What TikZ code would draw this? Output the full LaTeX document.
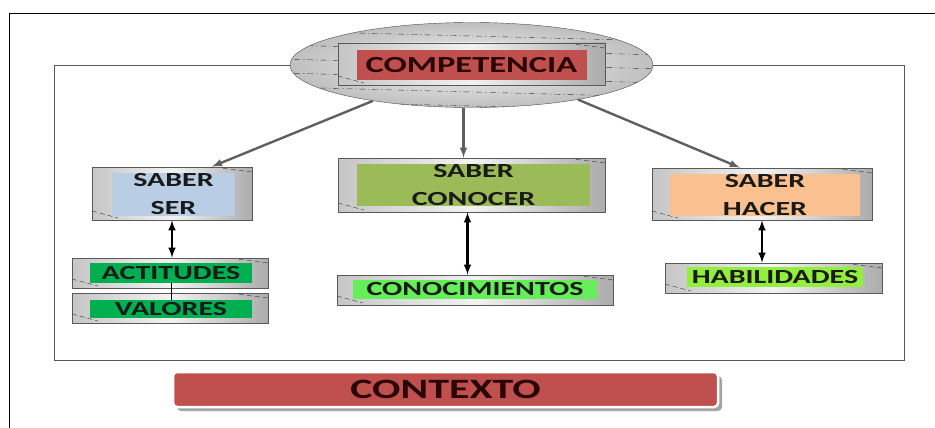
\documentclass[tikz,border=0pt]{standalone}
\usepackage{fontspec}
\setmainfont{Carlito}[FakeStretch=1.5]
\usetikzlibrary{shapes,arrows,shadows}

\definecolor{boxred}{HTML}{C0504D}
\definecolor{serblue}{HTML}{B9CDE5}
\definecolor{conolive}{HTML}{9BBB59}
\definecolor{hacerorange}{HTML}{FAC090}
\definecolor{valgreen}{HTML}{00B050}
\definecolor{conogreen}{HTML}{66EE5A}
\definecolor{habilime}{HTML}{92F03C}
\definecolor{inktext}{HTML}{1A1A1A}
\definecolor{darkink}{HTML}{2A0505}

\begin{document}
\begin{tikzpicture}[x=1pt,y=-1pt,
  metal/.style={draw=gray!70!black,line width=0.8pt,left color=gray!45,right color=gray!65,middle color=gray!10,inner sep=0pt,
    path picture={
      \draw[dash pattern=on 5pt off 3pt,black!80,line width=0.4pt] ([yshift=9pt]path picture bounding box.south west) -- ++(26pt,-7pt);
      \draw[dash pattern=on 5pt off 3pt,black!80,line width=0.4pt] ([yshift=-5pt]path picture bounding box.north east) -- ++(-32pt,4pt);}},
  tagtext/.style={inner sep=0pt,text=inktext,font=\bfseries\fontsize{20}{28}\selectfont,align=center},
  gray arrow/.style={draw=gray!75!black,line width=2.4pt,-latex},
  black arrow/.style={draw=black,line width=2.4pt,latex-latex}]
\useasboundingbox (0,0) rectangle (935,428);

% frames
\draw[line width=0.8pt] (9,428) -- (9,13) -- (935,13);
\draw[gray!70!black,line width=0.9pt] (54,65) rectangle (904,360);

% competencia
\node[ellipse,draw=gray!60!black,inner color=gray!8,outer color=gray!50,minimum width=363pt,minimum height=85pt,
  path picture={
    \foreach \k in {-36,-22,...,36}
      \draw[dash pattern=on 6pt off 3pt on 1pt off 3pt,black!80,line width=0.4pt]
        ([shift={(-190pt,\k pt)}]path picture bounding box.center) -- ([shift={(190pt,\k pt-10pt)}]path picture bounding box.center);
  }] (comp) at (471.5,65) {};
\node[metal,minimum width=267pt,minimum height=42pt] (compbox) at (471.5,64) {};
\node[tagtext,fill=boxred,minimum width=230pt,minimum height=30pt,text=darkink,font=\bfseries\fontsize{23}{23}\selectfont] (compt) at (471.5,65) {COMPETENCIA};

% saber ser
\node[metal,minimum width=160pt,minimum height=53pt] (serbox) at (172,193.5) {};
\node[tagtext,fill=serblue,minimum width=123pt,minimum height=43pt] (ser) at (173.5,194.5) {SABER\\SER};
\node[metal,minimum width=196pt,minimum height=30pt] (actbox) at (170,273) {};
\node[tagtext,fill=valgreen,minimum width=162pt,minimum height=20pt] (act) at (171,273) {ACTITUDES};
\node[metal,minimum width=196pt,minimum height=30pt] (valbox) at (170,308) {};
\node[tagtext,fill=valgreen,minimum width=162pt,minimum height=18pt] (val) at (171,309) {VALORES};

% saber conocer
\node[metal,minimum width=267pt,minimum height=54pt] (conobox) at (471.5,185) {};
\node[tagtext,fill=conolive,minimum width=233pt,minimum height=42pt] (cono) at (473.5,185) {SABER\\CONOCER};
\node[metal,minimum width=276pt,minimum height=30pt] (conocbox) at (475,290) {};
\node[tagtext,fill=conogreen,minimum width=244pt,minimum height=19pt] (conoc) at (475,289.5) {CONOCIMIENTOS};

% saber hacer
\node[metal,minimum width=220pt,minimum height=52pt] (hacerbox) at (762,194) {};
\node[tagtext,fill=hacerorange,minimum width=190pt,minimum height=42pt] (hacer) at (765,195) {SABER\\HACER};
\node[metal,minimum width=217pt,minimum height=30pt] (habbox) at (773.5,278) {};
\node[tagtext,fill=habilime,minimum width=176pt,minimum height=20pt] (hab) at (775,277) {HABILIDADES};

% contexto
\node[tagtext,fill=boxred,draw=white,line width=2.5pt,rounded corners=4pt,
  drop shadow={shadow xshift=4pt,shadow yshift=-4pt,fill=gray!80,opacity=0.9},
  minimum width=545pt,minimum height=35pt,text=darkink,font=\bfseries\fontsize{28}{28}\selectfont] (ctx) at (445.5,389.5) {CONTEXTO};

% connectors
\draw[gray arrow] (comp.200) -- (serbox.34);
\draw[gray arrow] ([xshift=-8pt]comp.south) -- ([xshift=-8pt]conobox.north);
\draw[gray arrow] (comp.342) -- (hacerbox.130);
\draw[black arrow] (serbox.south) -- (serbox.south |- actbox.north);
\draw[black arrow] ([xshift=-4pt]conobox.south) -- ([xshift=-4pt]conobox.south |- conocbox.north);
\draw[black arrow] (hacerbox.south) -- (hacerbox.south |- habbox.north);
\draw[line width=0.7pt] (act.south) -- (val.north);
\end{tikzpicture}
\end{document}
